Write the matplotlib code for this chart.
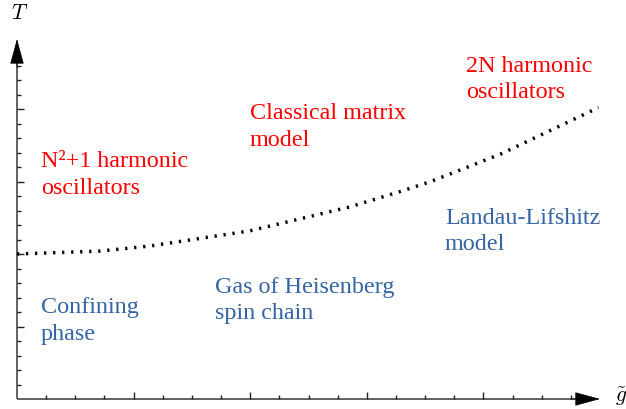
import numpy as np
import matplotlib
matplotlib.use("Agg")
import matplotlib.pyplot as plt

# ---- data ----
g_vals = [0.0, 2.85, 4.56, 8.0, 11.4, 13.2, 14.2, 16.6, 19.95]
T_vals = [10.0, 10.2, 10.55, 11.6, 13.24, 14.34, 15.0, 16.9, 20.1]

x_ticks = list(range(1, 20))
x_major = [4, 8, 12, 16]
y_ticks = list(range(1, 24))
y_major = [5, 10, 15, 20]

red_labels = [["N²+1 harmonic", "oscillators"],
              ["Classical matrix", "model"],
              ["2N harmonic", "oscillators"]]
blue_labels = [["Confining", "phase"],
               ["Gas of Heisenberg", "spin chain"],
               ["Landau-Lifshitz", "model"]]

plt.rcParams['mathtext.fontset'] = 'cm'

W, H = 626, 410
fig = plt.figure(figsize=(W / 100, H / 100), dpi=100)
ax = fig.add_axes([0, 0, 1, 1])
ax.axis('off')

X0, Y0, SX, SY = 17.0, 400.0, 29.15, 14.5
ax.set_xlim(-X0 / SX, (W - X0) / SX)
ax.set_ylim((Y0 - H) / SY, Y0 / SY)


def P(px, py):
    return ((px - X0) / SX, (Y0 - py) / SY)


axis_col = '#555555'
tick_col = '#222222'

# axes lines
x_tip = P(600, 400)[0]
y_tip = P(17, 40)[1]
ax.plot([0, x_tip - 0.6], [0, 0], color=axis_col, lw=1.3, solid_capstyle='butt')
ax.plot([0, 0], [0, y_tip - 1.2], color=axis_col, lw=1.3, solid_capstyle='butt')

arrow_style = '-|>,head_length=1.65,head_width=0.45'
ax.annotate('', xy=(x_tip, 0), xytext=(x_tip - 1.0, 0),
            arrowprops=dict(arrowstyle=arrow_style, color='black', lw=0.5,
                            shrinkA=0, shrinkB=0, mutation_scale=10))
ax.annotate('', xy=(0, y_tip), xytext=(0, y_tip - 2.0),
            arrowprops=dict(arrowstyle=arrow_style, color='black', lw=0.5,
                            shrinkA=0, shrinkB=0, mutation_scale=10))

# ticks
for t in x_ticks:
    L = 7 / SY if t in x_major else 4 / SY
    ax.plot([t, t], [0, L], color=tick_col, lw=1.0, solid_capstyle='butt')
for t in y_ticks:
    L = 7 / SX if t in y_major else 4 / SX
    ax.plot([0, L], [t, t], color=tick_col, lw=1.0, solid_capstyle='butt')

# dotted boundary curve
ax.plot(g_vals, T_vals, color='black', lw=2.5, linestyle=(0, (0.65, 1.95)),
        dash_capstyle='butt')

# axis labels
ax.text(*P(11, 19), r'$T$', fontsize=15.5, va='baseline', ha='left')
ax.text(*P(621, 402), r'$\tilde{g}$', fontsize=15.5, va='baseline', ha='center')

font = 'Liberation Serif'
fs = 17.4
red_pos = [(41, 167, 194), (250, 119, 146), (466, 72, 98)]
blue_pos = [(41, 313, 340), (215, 293, 319), (445, 224, 250)]

for lines, (px, b1, b2) in zip(red_labels, red_pos):
    ax.text(*P(px, b1), lines[0], color='#ff0000', fontsize=fs, family=font, va='baseline')
    ax.text(*P(px, b2), lines[1], color='#ff0000', fontsize=fs, family=font, va='baseline')
for lines, (px, b1, b2) in zip(blue_labels, blue_pos):
    ax.text(*P(px, b1), lines[0], color='#3465a4', fontsize=fs, family=font, va='baseline')
    ax.text(*P(px, b2), lines[1], color='#3465a4', fontsize=fs, family=font, va='baseline')

fig.savefig('out.png', dpi=100)
